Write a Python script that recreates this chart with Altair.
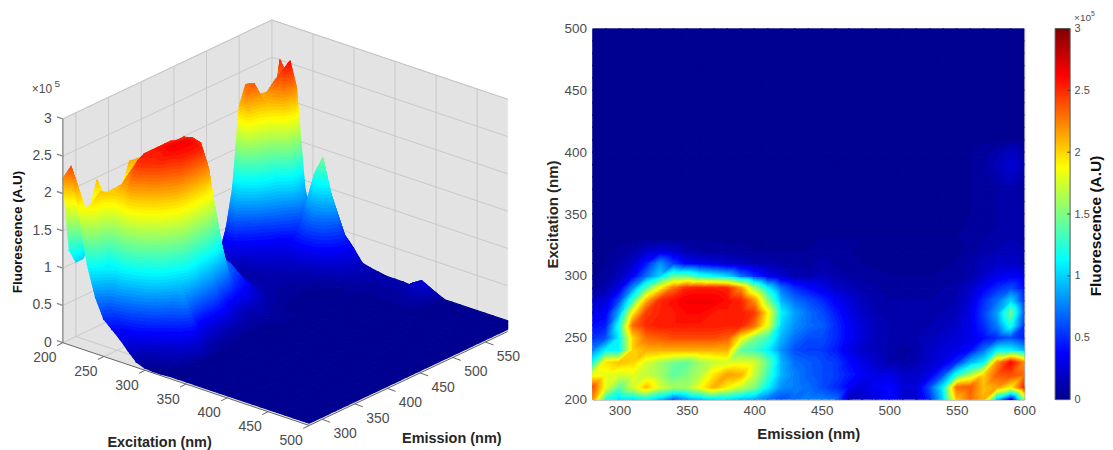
import altair as alt
import pandas as pd

alt.data_transformers.disable_max_rows()

# ---- values (fluorescence, x 1e5) ----
emission = list(range(280, 601, 10))
excitation = list(range(200, 501, 10))
r200 = [2.2,1.2,1.0,1.0,1.1,.9,.6,.8,.9,1.0,1.0,.9,.85,.7,.6,.7,.75, .75,.7,.15,.2,.25,.4,.2,.2,.5,1.0,2.05,2.3,2.1,.9,.2,1.5]
r210 = [2.4,1.8,1.4,1.75,2.05,1.75,1.6,1.6,1.85,2.1,1.9,1.7,1.5,1.1,.8,.75,.7, .6,.5,.35,.25,.35,.4,.25,.25,.6,1.1,2.3,2.35,2.05,2.15,1.9,2.5]
r220 = [1.8,1.8,1.75,1.8,1.7,1.6,1.4,1.5,1.65,1.95,2.15,2.1,1.7,1.3,.9,.75,.65, .6,.55,.45,.35,.3,.3,.2,.2,.3,.6,1.2,1.6,2.0,2.35,2.4,2.3]
r230 = [1.15,1.95,2.05,2.0,1.75,1.6,1.45,1.4,1.6,1.7,1.75,1.8,1.75,1.4,.9,.7,.65, .6,.55,.4,.3,.2,.12,.08,.12,.2,.3,.5,.9,1.1,2.2,2.6,2.2]
r240 = [.75,1.1,1.1,2.0,2.1,2.1,2.1,2.1,2.1,2.1,2.1,1.4,1.3,1.1,.8,.6,.55, .55,.45,.3,.2,.15,.1,.05,.1,.2,.25,.3,.4,.7,1.1,1.1,.9]
r250 = [.5,.6,1.1,2.0,2.3,2.35,2.4,2.4,2.4,2.4,2.35,1.9,1.5,1.3,.9,.7,.6, .6,.5,.35,.25,.15,.12,.12,.12,.15,.2,.25,.3,.4,.5,.6,.45]
r260 = [.4,.45,1.2,2.3,2.5,2.55,2.55,2.55,2.55,2.55,2.52,2.52,2.3,1.8,1.0,.8,.7, .65,.5,.35,.25,.15,.12,.1,.1,.12,.15,.2,.3,.5,.75,1.2,.5]
r270 = [.3,.35,.9,1.9,2.45,2.52,2.55,2.6,2.6,2.55,2.55,2.55,2.45,1.9,1.1,.85,.7, .6,.45,.3,.2,.12,.1,.1,.1,.1,.12,.15,.3,.55,.85,1.45,.6]
r280 = [.18,.25,.6,1.3,2.1,2.5,2.58,2.65,2.65,2.65,2.58,2.52,2.2,1.5,.9,.7,.6, .5,.35,.25,.15,.1,.08,.08,.08,.08,.1,.12,.25,.5,.7,1.0,.5]
r290 = [.07,.1,.3,.8,1.4,1.9,2.3,2.52,2.55,2.55,2.52,2.2,1.6,1.1,.7,.5,.4, .3,.2,.15,.1,.08,.06,.06,.06,.06,.08,.1,.2,.35,.5,.6,.4]
r300 = [.03,.06,.15,.35,.7,1.0,1.4,1.4,1.2,1.1,1.0,.7,.5,.3,.2,.12,.1, .15,.1,.08,.06,.05,.04,.04,.04,.04,.05,.06,.1,.2,.3,.35,.3]
r310 = [.02,.04,.1,.2,.45,.8,.55,.35,.3,.25,.2,.15,.12,.1,.08,.07,.06, .1,.07,.05,.04,.03,.03,.03,.03,.03,.03,.05,.1,.15,.2,.2,.15]
r320 = [.02,.02,.05,.1,.2,.25,.2,.1,.08,.06,.05,.05,.04,.04,.04,.04,.04, .06,.05,.04,.03,.03,.03,.03,.03,.03,.03,.03,.05,.1,.12,.15,.12]
r330 = [.03]*17 + [.04]*11 + [.05,.08,.1,.12,.1]
r340 = [.03]*28 + [.05,.07,.08,.1,.08]
r350 = [.03]*28 + [.04,.06,.08,.1,.08]
r360 = [.03]*28 + [.04,.06,.08,.1,.08]
r370 = [.03]*28 + [.04,.05,.07,.1,.07]
r380 = [.03]*28 + [.04,.06,.1,.18,.1]
r390 = [.03]*28 + [.04,.08,.14,.25,.12]
r400 = [.03]*28 + [.04,.06,.1,.18,.08]
r410 = [.03]*33
r420 = [.03]*33
r430 = [.03]*33
r440 = [.03]*33
r450 = [.03]*33
r460 = [.03]*33
r470 = [.03]*33
r480 = [.03]*33
r490 = [.03]*33
r500 = [.03]*33
grid = [r200,r210,r220,r230,r240,r250,r260,r270,r280,r290,r300,r310,r320,r330,r340,r350,
        r360,r370,r380,r390,r400,r410,r420,r430,r440,r450,r460,r470,r480,r490,r500]
assert all(len(r) == 33 for r in grid) and len(grid) == 31

z_ticks = [0, 0.5, 1, 1.5, 2, 2.5, 3]
z_tick_labels = ["0", "0.5", "1", "1.5", "2", "2.5", "3"]
ex_ticks = [200, 250, 300, 350, 400, 450, 500]
em_ticks = [300, 350, 400, 450, 500, 550]
em_heat_ticks = [300, 350, 400, 450, 500, 550, 600]
jet_z = [0, 0.38, 1.13, 1.88, 2.62, 3]
jet_colors = ["#00008B", "#0000FF", "#00FFFF", "#FFFF00", "#FF0000", "#800000"]
BAND = 0.04

TICK = "#4d4d4d"
TITLE = "#262626"
FONT = "Liberation Sans"

# ---- helpers: filled contour bands of the grid ----
def clip(poly, key, limit, keep_below):
    out = []
    n = len(poly)
    for i in range(n):
        a, b = poly[i], poly[(i + 1) % n]
        va, vb = a[key] - limit, b[key] - limit
        ina = va <= 0 if keep_below else va >= 0
        inb = vb <= 0 if keep_below else vb >= 0
        if ina:
            out.append(a)
        if ina != inb:
            t = va / (va - vb)
            out.append(tuple(a[k] + t * (b[k] - a[k]) for k in range(len(a))))
    return out

def bands(tri, xmax=None):
    zs = [p[2] for p in tri]
    lo = int(min(zs) / BAND)
    hi = int(max(zs) / BAND)
    feats = []
    for lev in range(lo, hi + 1):
        p = clip(tri, 2, lev * BAND, False)
        if len(p) >= 3:
            p = clip(p, 2, (lev + 1) * BAND, True)
        if xmax is not None and len(p) >= 3:
            p = clip(p, 0, xmax, True)
        if len(p) >= 3:
            ring = [[round(q[0], 2), round(q[1], 2)] for q in p]
            ring.append(ring[0])
            feats.append({"type": "Feature", "properties": {"z": round((lev + .5) * BAND, 3)},
                          "geometry": {"type": "Polygon", "coordinates": [ring]}})
    return feats

def surface_feats(project, order_i, order_j, xmax=None):
    feats = []
    for i in order_i:
        for j in order_j:
            a = project(i, j); b = project(i + 1, j)
            c = project(i + 1, j + 1); d = project(i, j + 1)
            feats += bands([a, d, c], xmax)
            feats += bands([a, c, b], xmax)
    return feats

# ---- left panel: orthographic view, panel origin at (8, 8) of the picture ----
W3, H3 = 515, 440
XMAX = 501                # the reference is cropped here
OX, OY = 55, 332          # floor corner excitation 200 / emission 280
EX_DX, EX_DY = 0.8233, 0.2767
EM_DX, EM_DY = 0.655, -0.31
Z_PX = 74.8

def p3(ex, em, z=0):
    return (OX + (ex - 200) * EX_DX + (em - 280) * EM_DX,
            OY + (ex - 200) * EX_DY + (em - 280) * EM_DY - z * Z_PX)

def lines(segs):
    return [{"type": "Feature", "properties": {},
             "geometry": {"type": "LineString", "coordinates": [list(a), list(b)]}} for a, b in segs]

def cut(a, b):
    if b[0] > XMAX:
        t = (XMAX - a[0]) / (b[0] - a[0])
        b = (XMAX, a[1] + t * (b[1] - a[1]))
    return a, b

def poly(pts):
    p = clip([tuple(q) for q in pts], 0, XMAX, True)
    ring = [list(q) for q in p] + [list(p[0])]
    return {"type": "Feature", "properties": {}, "geometry": {"type": "Polygon", "coordinates": [ring]}}

walls = [
    poly([p3(200, 280), p3(200, 600), p3(200, 600, 3), p3(200, 280, 3)]),
    poly([p3(200, 600), p3(500, 600), p3(500, 600, 3), p3(200, 600, 3)]),
    poly([p3(200, 280), p3(500, 280), p3(500, 600), p3(200, 600)]),
]
grid_segs = []
for z in z_ticks[1:] + [0]:
    grid_segs.append((p3(200, 280, z), p3(200, 600, z)))
    grid_segs.append(cut(p3(200, 600, z), p3(500, 600, z)))
for em in em_ticks:
    grid_segs.append((p3(200, em), p3(200, em, 3)))
    grid_segs.append(cut(p3(200, em), p3(500, em)))
for ex in ex_ticks[1:-1]:
    grid_segs.append(cut(p3(ex, 280), p3(ex, 600)))
    if p3(ex, 600)[0] <= XMAX:
        grid_segs.append((p3(ex, 600), p3(ex, 600, 3)))
grid_segs.append((p3(200, 600), p3(200, 600, 3)))
grid_segs.append(cut(p3(200, 280, 3), p3(200, 600, 3)))
grid_segs.append(cut(p3(200, 600, 3), p3(500, 600, 3)))

def s3(i, j):
    x, y = p3(excitation[i], emission[j])
    return (x, y - grid[i][j] * Z_PX, grid[i][j])

surf3 = surface_feats(s3, range(30), range(31, -1, -1), xmax=XMAX)

axis_segs = [(p3(200, 280), p3(200, 280, 3))]
frame_segs = [(p3(200, 280), p3(500, 280)), cut(p3(500, 280), p3(500, 600))]
for z in z_ticks:
    a = p3(200, 280, z)
    axis_segs.append((a, (a[0] - 6, a[1] - 2)))
for ex in ex_ticks:
    a = p3(ex, 280)
    frame_segs.append((a, (a[0] - 6, a[1] + 3)))
for em in em_ticks:
    a = p3(500, em)
    frame_segs.append((a, (a[0] + 8, a[1] + 3)))

labelsL = pd.DataFrame([{"lon": p3(200, 280, z)[0] - 11, "lat": p3(200, 280, z)[1], "t": t}
                        for z, t in zip(z_ticks, z_tick_labels)])
labelsE = pd.DataFrame(
    [{"lon": p3(ex, 280)[0] - 18, "lat": p3(ex, 280)[1] + 15.5, "t": str(ex)} for ex in ex_ticks]
    + [{"lon": p3(500, em)[0] + 23, "lat": p3(500, em)[1] + 15, "t": str(em)} for em in em_ticks])

proj = dict(type="identity", scale=1, translate=[0, 0])
jet = alt.Scale(domain=jet_z, range=jet_colors, interpolate="rgb", clamp=True)

def geo(feats):
    return alt.Chart(alt.Data(values=feats))

def band_layer(feats):
    return geo(feats).mark_geoshape(strokeWidth=1.1, opacity=1).encode(
        color=alt.Color("properties.z:Q", scale=jet, legend=None),
        stroke=alt.Stroke("properties.z:Q", scale=jet, legend=None))

def text_layer(df, **kw):
    return alt.Chart(df).mark_text(font=FONT, **kw).encode(
        longitude="lon:Q", latitude="lat:Q", text="t:N")

title_ex = pd.DataFrame({"lon": [152], "lat": [433], "t": ["Excitation (nm)"]})
title_em = pd.DataFrame({"lon": [445], "lat": [429], "t": ["Emission (nm)"]})
title_fl = pd.DataFrame({"lon": [10], "lat": [221], "t": ["Fluorescence (A.U)"]})
exp_a = pd.DataFrame({"lon": [34], "lat": [78], "t": ["×10"]})
exp_b = pd.DataFrame({"lon": [49.5], "lat": [73], "t": ["5"]})

left = alt.layer(
    geo(walls).mark_geoshape(fill="#e3e3e3", stroke="#e3e3e3", strokeWidth=0.5),
    geo(lines(grid_segs)).mark_geoshape(filled=False, stroke="#c9c9c9", strokeWidth=1),
    band_layer(surf3),
    geo(lines(axis_segs)).mark_geoshape(filled=False, stroke="#8c8c8c", strokeWidth=1.4),
    geo(lines(frame_segs)).mark_geoshape(filled=False, stroke="#666666", strokeWidth=1),
    text_layer(labelsL, align="right", baseline="middle", fontSize=14, color=TICK),
    text_layer(labelsE, align="center", baseline="middle", fontSize=14, color=TICK),
    text_layer(title_ex, align="center", baseline="middle", fontSize=14.5, fontWeight="bold", color=TITLE),
    text_layer(title_em, align="center", baseline="middle", fontSize=14.5, fontWeight="bold", color=TITLE),
    text_layer(title_fl, align="center", baseline="middle", fontSize=13.5, fontWeight="bold", color="#111111", angle=270),
    text_layer(exp_a, align="center", baseline="middle", fontSize=12, color=TICK),
    text_layer(exp_b, align="center", baseline="middle", fontSize=10, color=TICK),
).project(**proj).properties(width=W3, height=H3)

# ---- right panel: filled contour map ----
W2, H2 = 433, 372

def s2(i, j):
    return ((emission[j] - 280) / 320 * W2, (500 - excitation[i]) / 300 * H2, grid[i][j])

heat = surface_feats(s2, range(30), range(32))

axes_df = pd.DataFrame({"em": [280, 600], "ex": [200, 500]})
axes_layer = alt.Chart(axes_df).mark_point(opacity=0).encode(
    x=alt.X("em:Q", scale=alt.Scale(domain=[280, 600], nice=False),
            axis=alt.Axis(values=em_heat_ticks, title="Emission (nm)", grid=False,
                          labelPadding=4, titlePadding=10, labelFlush=False)),
    y=alt.Y("ex:Q", scale=alt.Scale(domain=[200, 500], nice=False),
            axis=alt.Axis(values=ex_ticks, title="Excitation (nm)", grid=False,
                          labelPadding=6, titlePadding=3, labelFlush=False)),
)
right = alt.layer(band_layer(heat), axes_layer).project(**proj).properties(
    width=W2, height=H2, view=alt.ViewConfig(stroke="#9a9a9a", strokeWidth=1))

# ---- colour bar ----
stops = [alt.GradientStop(offset=z / 3, color=c) for z, c in zip(jet_z, jet_colors)]
gradient = alt.LinearGradient(gradient="linear", x1=0, y1=1, x2=0, y2=0, stops=stops)
bar_df = pd.DataFrame({"lo": [0], "hi": [3]})
bar_axis = alt.Axis(values=z_ticks, labelExpr="'' + datum.value", title=None,
                    orient="right", labelFontSize=11, labelPadding=4, labelFlush=False)
bar_scale = alt.Scale(domain=[0, 3], nice=False)
bar = alt.Chart(bar_df).mark_rect(color=gradient, stroke="#555555", strokeWidth=1).encode(
    y=alt.Y("lo:Q", scale=bar_scale, axis=bar_axis), y2="hi:Q")
bar_ticks = alt.Chart(pd.DataFrame({"v": z_ticks[1:-1]})).mark_rule(color="#444444").encode(
    y=alt.Y("v:Q", scale=bar_scale, axis=bar_axis),
    x=alt.value(12), x2=alt.value(15))
exp1 = alt.Chart(pd.DataFrame({"t": ["×10"]})).mark_text(font=FONT, fontSize=10, color=TICK, align="left").encode(
    x=alt.value(19), y=alt.value(-11), text="t:N")
exp2 = alt.Chart(pd.DataFrame({"t": ["5"]})).mark_text(font=FONT, fontSize=7, color=TICK, align="left").encode(
    x=alt.value(36), y=alt.value(-15), text="t:N")
bar_title = alt.Chart(pd.DataFrame({"t": ["Fluorescence (A.U)"]})).mark_text(
    font=FONT, fontSize=15.5, fontWeight="bold", color="#111111", angle=270, align="center", baseline="middle"
).encode(x=alt.value(41), y=alt.value(198), text="t:N")
colorbar = alt.layer(bar, bar_ticks, exp1, exp2, bar_title).properties(width=15, height=H2)

spacer = alt.Chart(pd.DataFrame({"a": [0]})).mark_point(opacity=0).encode(
    x=alt.value(0), y=alt.value(0)).properties(width=10, height=17)
rightside = alt.vconcat(spacer, alt.hconcat(right, colorbar, spacing=31, bounds="flush"),
                        spacing=0, bounds="flush")
chart = alt.hconcat(left, rightside, spacing=71, bounds="flush").properties(
    padding=0
).configure_axis(
    labelFont=FONT, titleFont=FONT, labelColor=TICK, titleColor=TITLE,
    labelFontSize=13.5, titleFontSize=15, titleFontWeight="bold",
    ticks=False, domain=False,
).configure_view(stroke=None).resolve_scale(color="independent")

chart.save("out.html", embed_options={"renderer": "svg", "actions": False})
